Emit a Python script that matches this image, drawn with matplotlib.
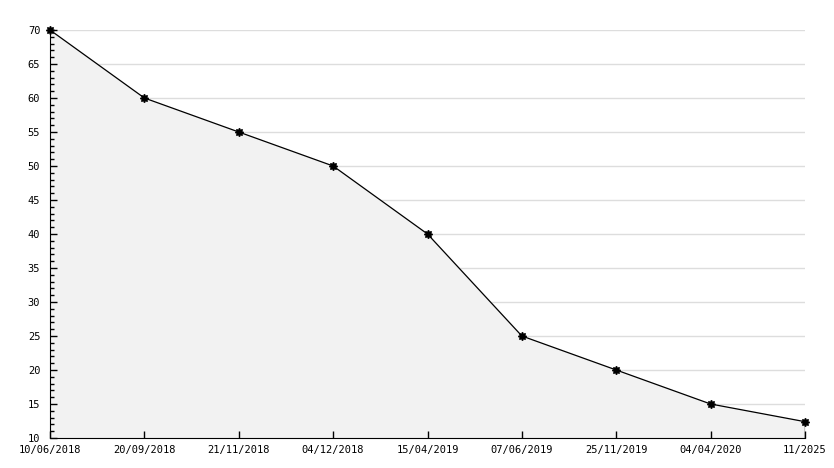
import matplotlib.pyplot as plt
from matplotlib.ticker import MultipleLocator

# データ
dates = ["10/06/2018", "20/09/2018", "21/11/2018", "04/12/2018", "15/04/2019",
         "07/06/2019", "25/11/2019", "04/04/2020", "11/2025"]
values = [70, 60, 55, 50, 40, 25, 20, 15, 12.4]
grid_levels = [15, 20, 25, 30, 35, 40, 45, 50, 55, 60, 65, 70]

fig = plt.figure(figsize=(8.34, 4.68), dpi=100)
ax = fig.add_axes([50 / 834, 30 / 468, 755 / 834, 408 / 468])

x = list(range(len(dates)))
# グリッド（塗りの下）
ax.hlines(grid_levels, 0, len(dates) - 1, color="#dddddd", lw=1, zorder=0.5)
ax.fill_between(x, values, 10, color="#f2f2f2", zorder=1)
ax.plot([x[-1], x[-1]], [10, values[-1]], color="black", lw=1, zorder=3)
ax.plot(x, values, color="black", lw=0.9, marker=(8, 1, 0), markersize=6,
        zorder=4, clip_on=False)

ax.set_xlim(0, len(dates) - 1)
ax.set_ylim(10, 70)
ax.set_xticks(x)
ax.set_xticklabels(dates, family="DejaVu Sans Mono", fontsize=7.5)
ax.yaxis.set_major_locator(MultipleLocator(5))
ax.yaxis.set_minor_locator(MultipleLocator(1))
for lab in ax.get_yticklabels():
    lab.set_family("DejaVu Sans Mono")
    lab.set_fontsize(7.5)

ax.tick_params(axis="both", which="major", direction="in", length=5, width=1)
ax.tick_params(axis="y", which="minor", direction="in", length=3, width=1)
ax.tick_params(axis="y", which="major", pad=7)
ax.tick_params(axis="x", pad=5)
for s in ["top", "right"]:
    ax.spines[s].set_visible(False)

plt.savefig("out.png", dpi=100)
